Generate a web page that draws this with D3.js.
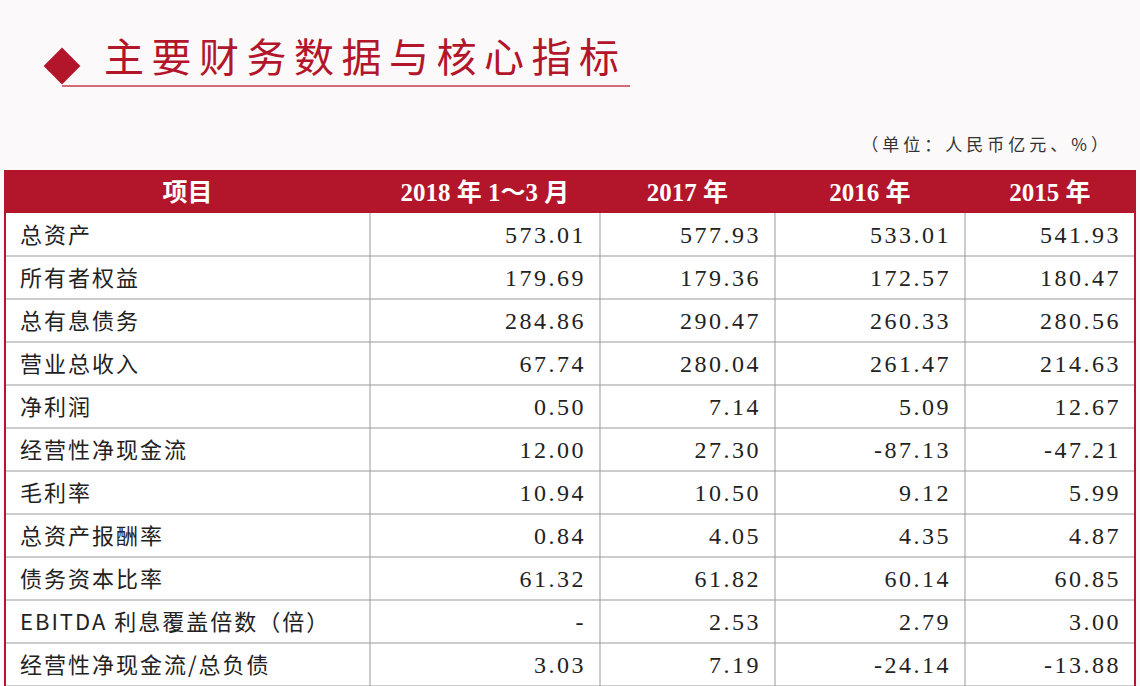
<!DOCTYPE html>
<html><head><meta charset="utf-8">
<script src="https://cdn.jsdelivr.net/npm/d3@7/dist/d3.min.js"></script>
<style>body{margin:0;background:#fbf9f9}</style></head>
<body><svg id="c" width="1140" height="686"></svg>
<script>
const title = "主要财务数据与核心指标";
const unit = "（单位：人民币亿元、%）";
const headers = ["项目","2018 年 1～3 月","2017 年","2016 年","2015 年"];
const items = ["总资产","所有者权益","总有息债务","营业总收入","净利润","经营性净现金流","毛利率","总资产报酬率","债务资本比率","EBITDA 利息覆盖倍数（倍）","经营性净现金流/总负债"];
const v2018 = ["573.01","179.69","284.86","67.74","0.50","12.00","10.94","0.84","61.32","-","3.03"];
const v2017 = ["577.93","179.36","290.47","280.04","7.14","27.30","10.50","4.05","61.82","2.53","7.19"];
const v2016 = ["533.01","172.57","260.33","261.47","5.09","-87.13","9.12","4.35","60.14","2.79","-24.14"];
const v2015 = ["541.93","180.47","280.56","214.63","12.67","-47.21","5.99","4.87","60.85","3.00","-13.88"];

const svg = d3.select("#c");
const red = "#b3152b";
const colEdges = [5,370,600,775,965,1135];
const y = d3.scaleBand().domain(d3.range(items.length+1)).range([170,686]).padding(0);

svg.append("rect").attr("x",-13).attr("y",-13).attr("width",26).attr("height",26)
  .attr("fill",red).attr("transform","translate(62,66) rotate(45)");
svg.append("text").attr("x",104).attr("y",72).text(title)
  .attr("font-family","Noto Sans CJK SC").attr("font-size",40).attr("fill",red).attr("letter-spacing",7.5);
svg.append("line").attr("x1",62).attr("x2",630).attr("y1",86).attr("y2",86).attr("stroke","#d46a77").attr("stroke-width",2);
svg.append("text").attr("x",1112).attr("y",151).attr("text-anchor","end").text(unit)
  .attr("font-family","Noto Sans CJK SC").attr("font-size",17).attr("fill","#333").attr("letter-spacing",4);

svg.append("rect").attr("x",colEdges[0]).attr("y",y(0)).attr("width",colEdges[5]-colEdges[0]).attr("height",y.bandwidth()).attr("fill",red);
headers.forEach((h,i)=>{
  svg.append("text").attr("x",(colEdges[i]+colEdges[i+1])/2).attr("y",y(0)+y.bandwidth()/2+9)
    .attr("text-anchor","middle").text(h).attr("fill","#fff").attr("font-weight","bold")
    .attr("font-size",25).attr("font-family","Liberation Serif, Noto Sans CJK SC");
});
svg.append("rect").attr("x",colEdges[0]).attr("y",y(1)).attr("width",colEdges[5]-colEdges[0]).attr("height",686-y(1)).attr("fill","#fff");
items.forEach((_,r)=>{
  svg.append("line").attr("x1",colEdges[0]).attr("x2",colEdges[5]).attr("y1",y(r+1)+y.bandwidth()).attr("y2",y(r+1)+y.bandwidth()).attr("stroke","#999").attr("stroke-width",1);
});
colEdges.forEach((x,i)=>{
  svg.append("line").attr("x1",x).attr("x2",x).attr("y1",i==0||i==5?y(0):y(1)).attr("y2",686).attr("stroke",i==0||i==5?red:"#999").attr("stroke-width",i==0||i==5?2:1);
});
const cols=[v2018,v2017,v2016,v2015];
items.forEach((it,r)=>{
  const cy=y(r+1)+y.bandwidth()/2+8;
  svg.append("text").attr("x",20).attr("y",cy).text(it).attr("font-size",22).attr("fill","#222")
    .attr("font-family","Noto Sans CJK SC").attr("letter-spacing",2);
  cols.forEach((c,j)=>{
    svg.append("text").attr("x",colEdges[j+2]-14).attr("y",cy).attr("text-anchor","end").text(c[r])
      .attr("font-size",24).attr("fill","#222").attr("font-family","Liberation Serif").attr("letter-spacing",2.5);
  });
});
</script></body></html>
